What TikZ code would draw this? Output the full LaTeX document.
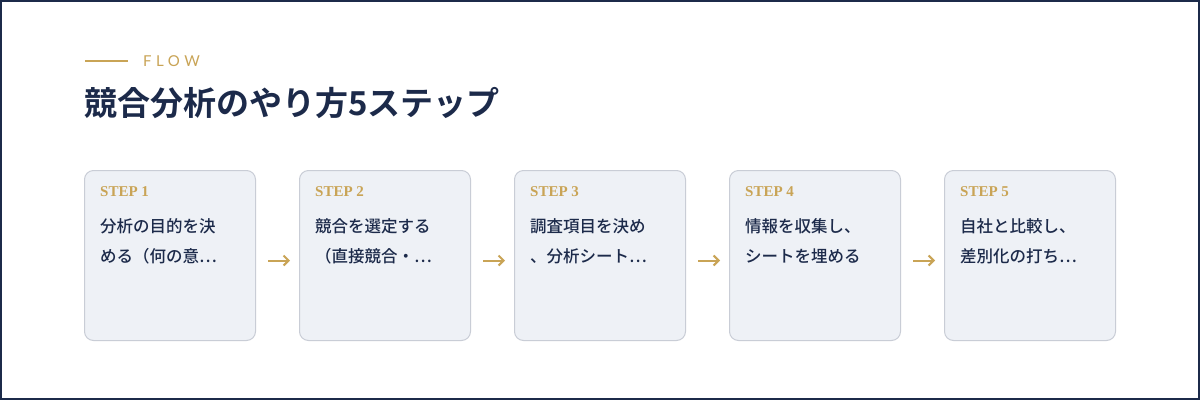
\documentclass[tikz,border=0pt]{standalone}
\usepackage{fontspec}
\setmainfont{Liberation Serif}
\newfontfamily\cjk{Noto Sans CJK JP Medium}
\newfontfamily\cjkb{Noto Sans CJK JP Bold}
\newfontfamily\flowfont[LetterSpace=30]{Lato}
\usetikzlibrary{arrows.meta}
\definecolor{navy}{HTML}{1C2A4A}
\definecolor{gold}{HTML}{C9A456}
\definecolor{boxfill}{HTML}{EEF1F6}
\definecolor{boxline}{HTML}{C9CDD6}
\begin{document}
\begin{tikzpicture}[x=1pt,y=-1pt,
  stepbox/.style={draw=boxline,fill=boxfill,rounded corners=9pt,line width=1pt,minimum width=171pt,minimum height=170pt,inner sep=0pt},
  lab/.style={anchor=west,text=gold,font=\fontsize{15}{15}\selectfont\bfseries},
  body/.style={anchor=north west,text=navy,align=left,font=\cjk\fontsize{16.5}{30}\selectfont,inner sep=0pt},
  conn/.style={draw=gold,line width=2pt,-{Straight Barb[length=5pt,width=10pt]},shorten <=12pt,shorten >=9pt}]
\draw[draw=navy,line width=2pt,fill=white] (1,1) rectangle (1199,399);
\useasboundingbox (0,0) rectangle (1200,400);
\draw[gold,line width=1.5pt] (85,61) -- (128,61);
\node[anchor=west,text=gold,font=\flowfont\fontsize{15}{15}\selectfont,inner sep=0pt] (flow) at (143,61) {FLOW};
\node[anchor=west,text=navy,font=\cjkb\fontsize{33}{33}\selectfont,inner sep=0pt] (title) at (84,103) {競合分析のやり方5ステップ};
\foreach \i/\x/\a/\b in {1/84/分析の目的を決/める（何の意…,2/299/競合を選定する/（直接競合・…,3/514/調査項目を決め/、分析シート…,4/729/情報を収集し、/シートを埋める,5/944/自社と比較し、/差別化の打ち…}{
  \node[stepbox,anchor=north west] (s\i) at (\x,170) {};
  \node[lab,inner sep=0pt] (l\i) at (\x+16,192) {STEP \i};
  \node[body] (b\i) at (\x+16,218) {\a\\\b};
}
\foreach \i/\j in {1/2,2/3,3/4,4/5}{\draw[conn] ([yshift=-5pt]s\i.east) -- ([yshift=-5pt]s\j.west);}
\end{tikzpicture}
\end{document}
